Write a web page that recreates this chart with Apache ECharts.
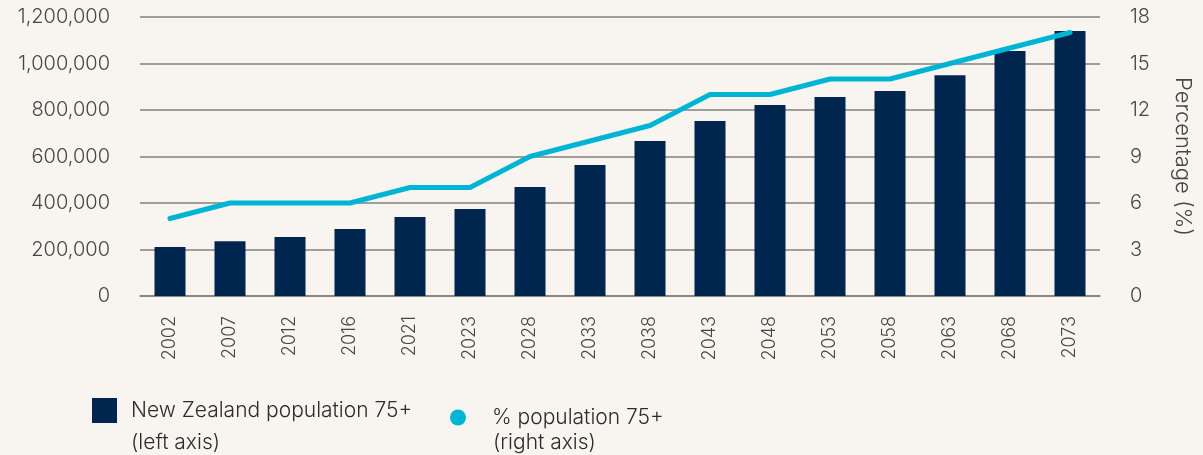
<!DOCTYPE html>
<html>
<head>
<meta charset="utf-8">
<script src="https://cdn.jsdelivr.net/npm/echarts@6/dist/echarts.min.js"></script>
<style>
  html, body { margin: 0; padding: 0; background: #f8f5f0; }
  #main { width: 1203px; height: 455px; }
</style>
</head>
<body>
<div id="main"></div>
<script>
var years = ['2002', '2007', '2012', '2016', '2021', '2023', '2028', '2033', '2038', '2043', '2048', '2053', '2058', '2063', '2068', '2073'];
// population aged 75+ (left axis)
var population75 = [211000, 236000, 254000, 288000, 340000, 374000, 469000, 563000, 667000, 753000, 821000, 856000, 882000, 950000, 1054000, 1140000];
// share of population aged 75+ (right axis, %)
var percent75 = [5, 6, 6, 6, 7, 7, 9, 10, 11, 13, 13, 14, 14, 15, 16, 17];

var barName = 'New Zealand population 75+';
var lineName = '% population 75+';
var barNote = '(left axis)';
var lineNote = '(right axis)';

var font = 'Inter, "Noto Sans", sans-serif';
var textColor = '#4a4542';
var legendColor = '#2f2b29';
var gridColor = '#85807c';

var chart = echarts.init(document.getElementById('main'));

function legendText(padLeft) {
    return {
        fontFamily: font,
        fontSize: 21,
        fontWeight: 300,
        color: legendColor,
        padding: [0, 0, 0, padLeft]
    };
}

// second line of each legend label
function noteText(x, y, text) {
    return {
        type: 'text',
        left: x,
        top: y,
        style: {
            text: text,
            font: '300 21px ' + font,
            fill: legendColor
        }
    };
}

var option = {
    backgroundColor: '#f8f5f0',
    animation: false,
    grid: { left: 140, right: 103, top: 17, bottom: 159 },
    legend: [{
        left: 92,
        top: 398,
        padding: 0,
        itemWidth: 25,
        itemHeight: 25,
        data: [{ name: barName, icon: 'rect' }],
        textStyle: legendText(9)
    }, {
        left: 450,
        top: 407,
        padding: 0,
        itemWidth: 16,
        itemHeight: 16,
        data: [{ name: lineName, icon: 'circle' }],
        textStyle: legendText(21)
    }],
    graphic: [
        noteText(131, 432, barNote),
        noteText(493, 432, lineNote)
    ],
    xAxis: {
        type: 'category',
        data: years,
        axisTick: { show: false },
        axisLine: { lineStyle: { color: gridColor, width: 1.5 } },
        axisLabel: {
            rotate: 90,
            margin: 20,
            fontFamily: font,
            fontSize: 18,
            fontWeight: 300,
            color: textColor
        }
    },
    yAxis: [{
        type: 'value',
        min: 0,
        max: 1200000,
        interval: 200000,
        axisLine: { show: false },
        axisTick: { show: false },
        splitLine: { lineStyle: { color: gridColor, width: 1.5 } },
        axisLabel: {
            margin: 30,
            fontFamily: font,
            fontSize: 20,
            fontWeight: 300,
            color: textColor,
            formatter: function (v) { return v.toLocaleString('en-US'); }
        }
    }, {
        type: 'value',
        min: 0,
        max: 18,
        interval: 3,
        name: 'Percentage (%)',
        nameLocation: 'middle',
        nameRotate: -90,
        nameGap: 72,
        nameTextStyle: {
            fontFamily: font,
            fontSize: 22,
            fontWeight: 300,
            color: textColor
        },
        axisLine: { show: false },
        axisTick: { show: false },
        splitLine: { show: false },
        axisLabel: {
            margin: 30,
            fontFamily: font,
            fontSize: 20,
            fontWeight: 300,
            color: textColor
        }
    }],
    series: [{
        name: barName,
        type: 'bar',
        data: population75,
        barWidth: 31,
        itemStyle: { color: '#00264f' }
    }, {
        name: lineName,
        type: 'line',
        yAxisIndex: 1,
        data: percent75,
        symbol: 'none',
        lineStyle: { color: '#00b5d4', width: 5, cap: 'round' },
        itemStyle: { color: '#00b5d4' }
    }]
};

chart.setOption(option);
</script>
</body>
</html>
